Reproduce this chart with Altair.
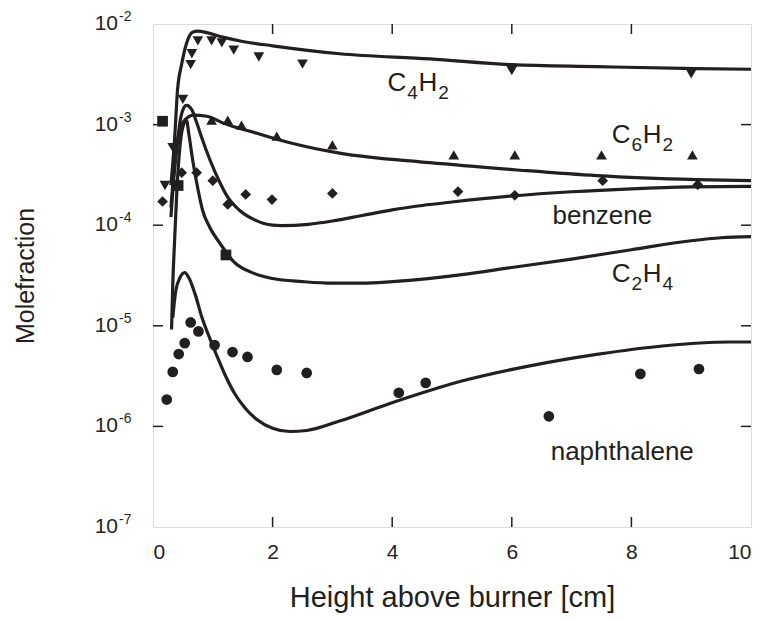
import altair as alt
import pandas as pd

# ---------------- model curves ----------------
c4h2_x = [0.30, 0.36, 0.41, 0.48, 0.56, 0.66, 0.75, 0.90, 1.17, 1.50, 2.00, 3.12, 4.63, 6.00, 7.42, 9.09, 10.0]
c4h2_y = [2.5e-4, 7.0e-4, 2.2e-3, 4.0e-3, 6.4e-3, 8.3e-3, 8.5e-3, 8.2e-3, 7.4e-3, 6.7e-3, 6.07e-3, 5.06e-3, 4.5e-3, 3.94e-3, 3.77e-3, 3.6e-3, 3.55e-3]

c6h2_x = [0.30, 0.36, 0.42, 0.50, 0.60, 0.67, 0.90, 1.17, 1.74, 2.29, 3.12, 4.63, 6.05, 7.42, 9.09, 10.0]
c6h2_y = [1.5e-4, 4.0e-4, 7.5e-4, 1.05e-3, 1.2e-3, 1.24e-3, 1.21e-3, 1.04e-3, 8.2e-4, 6.6e-4, 5.2e-4, 4.18e-4, 3.56e-4, 3.11e-4, 2.84e-4, 2.77e-4]

benz_x = [0.30, 0.36, 0.40, 0.45, 0.50, 0.56, 0.65, 0.73, 0.83, 0.95, 1.10, 1.25, 1.45, 1.70, 2.00, 2.15, 2.60, 3.00, 3.50, 4.00, 4.50, 5.00, 6.00, 7.00, 8.00, 9.00, 10.0]
benz_y = [1.2e-4, 3.5e-4, 6.0e-4, 1.05e-3, 1.4e-3, 1.55e-3, 1.4e-3, 1.05e-3, 7.0e-4, 4.5e-4, 2.8e-4, 1.9e-4, 1.4e-4, 1.13e-4, 1.0e-4, 9.9e-5, 1.02e-4, 1.1e-4, 1.25e-4, 1.42e-4, 1.57e-4, 1.7e-4, 1.95e-4, 2.15e-4, 2.3e-4, 2.4e-4, 2.43e-4]

c2h4_x = [0.31, 0.33, 0.36, 0.40, 0.45, 0.50, 0.56, 0.60, 0.67, 0.75, 0.83, 0.95, 1.12, 1.34, 1.70, 2.00, 2.50, 3.00, 3.50, 4.00, 4.60, 5.30, 6.00, 7.00, 8.00, 9.00, 9.50, 10.0]
c2h4_y = [9.2e-6, 2.5e-5, 6.8e-5, 2.26e-4, 6.0e-4, 9.5e-4, 1.1e-3, 8.0e-4, 4.2e-4, 2.3e-4, 1.4e-4, 9.5e-5, 6.6e-5, 4.4e-5, 3.3e-5, 2.95e-5, 2.75e-5, 2.65e-5, 2.65e-5, 2.75e-5, 2.95e-5, 3.3e-5, 3.8e-5, 4.6e-5, 5.7e-5, 7.0e-5, 7.5e-5, 7.7e-5]

naph_x = [0.33, 0.38, 0.45, 0.53, 0.60, 0.70, 0.82, 0.95, 1.07, 1.20, 1.37, 1.55, 1.73, 2.00, 2.29, 2.57, 3.12, 3.96, 5.18, 6.30, 7.42, 8.52, 9.64, 10.0]
naph_y = [1.2e-5, 2.2e-5, 3.0e-5, 3.37e-5, 3.0e-5, 2.1e-5, 1.2e-5, 7.5e-6, 5.0e-6, 3.3e-6, 2.1e-6, 1.5e-6, 1.18e-6, 9.6e-7, 8.9e-7, 9.1e-7, 1.13e-6, 1.69e-6, 2.84e-6, 4.0e-6, 5.2e-6, 6.3e-6, 6.9e-6, 6.9e-6]

# ---------------- measured points ----------------
m_c4h2_x = [0.20, 0.33, 0.50, 0.63, 0.65, 0.75, 0.98, 1.15, 1.35, 1.77, 2.50, 6.00, 9.00]
m_c4h2_y = [2.48e-4, 5.9e-4, 1.78e-3, 3.95e-3, 5.06e-3, 6.8e-3, 6.8e-3, 6.5e-3, 5.5e-3, 4.7e-3, 4.0e-3, 3.44e-3, 3.2e-3]

m_c6h2_x = [0.98, 1.25, 1.48, 2.07, 3.00, 5.03, 6.05, 7.50, 9.02]
m_c6h2_y = [1.11e-3, 1.11e-3, 9.9e-4, 7.7e-4, 6.3e-4, 5.0e-4, 5.0e-4, 5.0e-4, 5.0e-4]

m_benz_x = [0.16, 0.48, 0.73, 1.00, 1.25, 1.55, 1.99, 3.00, 5.10, 6.05, 7.52, 9.11]
m_benz_y = [1.72e-4, 3.33e-4, 3.33e-4, 2.77e-4, 1.61e-4, 2.02e-4, 1.80e-4, 2.07e-4, 2.16e-4, 1.98e-4, 2.77e-4, 2.53e-4]

m_c2h4_x = [0.16, 0.42, 1.22]
m_c2h4_y = [1.08e-3, 2.48e-4, 5.06e-5]

m_naph_x = [0.23, 0.33, 0.43, 0.53, 0.63, 0.76, 1.03, 1.33, 1.58, 2.07, 2.57, 4.11, 4.56, 6.62, 8.15, 9.13]
m_naph_y = [1.85e-6, 3.48e-6, 5.24e-6, 6.73e-6, 1.08e-5, 8.8e-6, 6.43e-6, 5.48e-6, 4.9e-6, 3.65e-6, 3.40e-6, 2.16e-6, 2.71e-6, 1.26e-6, 3.33e-6, 3.72e-6]

species = ["C4H2", "C6H2", "benzene", "C2H4", "naphthalene"]
shapes = ["triangle-down", "triangle-up", "diamond", "square", "circle"]
sizes = [115, 115, 85, 125, 180]

# ---------------- axis ticks / labels ----------------
x_ticks = [2, 4, 6, 8]
x_labels = [0, 2, 4, 6, 8, 10]
y_ticks = [1e-3, 1e-4, 1e-5, 1e-6]
y_label_vals = [1e-2, 1e-3, 1e-4, 1e-5, 1e-6, 1e-7]
y_label_exps = ["-2", "-3", "-4", "-5", "-6", "-7"]

# ---------------- species annotations (pieces for subscripts) ----------------
lab_big_text = ["C", "H", "C", "H", "C", "H", "benzene", "naphthalene"]
lab_big_x = [3.92, 4.44, 7.67, 8.19, 7.67, 8.19, 6.68, 6.65]
lab_big_y = [2.14e-3, 2.14e-3, 6.58e-4, 6.58e-4, 2.74e-5, 2.74e-5, 1.02e-4, 4.62e-7]
lab_sub_text = ["4", "2", "6", "2", "2", "4"]
lab_sub_x = [4.25, 4.77, 8.00, 8.52, 8.00, 8.52]
lab_sub_y = [2.14e-3, 2.14e-3, 6.58e-4, 6.58e-4, 2.74e-5, 2.74e-5]

FONT = "Liberation Sans"
INK = "#231f20"
W, H = 598, 503

xs = alt.Scale(domain=[0, 10], nice=False, zero=False)
ys = alt.Scale(type="log", domain=[1e-7, 1e-2], nice=False)

x_axis = alt.Axis(values=x_labels, format="d", labelFontSize=21, labelFont=FONT, labelColor=INK,
                  ticks=False, domain=False, grid=False, labelPadding=14,
                  title="Height above burner [cm]", titleFontSize=29, titleFont=FONT,
                  titleFontWeight="normal", titleColor=INK, titlePadding=21)
y_axis = alt.Axis(labels=False, ticks=False, domain=False, grid=False,
                  title="Molefraction", titleFontSize=25, titleFont=FONT,
                  titleFontWeight="normal", titleColor=INK, titlePadding=115)


def X(field):
    return alt.X(field, type="quantitative", scale=xs, axis=x_axis)


def Y(field):
    return alt.Y(field, type="quantitative", scale=ys, axis=y_axis)


rows = []
for sp, xx, yy in zip(species, [c4h2_x, c6h2_x, benz_x, c2h4_x, naph_x], [c4h2_y, c6h2_y, benz_y, c2h4_y, naph_y]):
    for a, b in zip(xx, yy):
        rows.append({"species": sp, "x": a, "y": b})
model = pd.DataFrame(rows)

rows = []
for sp, xx, yy in zip(species, [m_c4h2_x, m_c6h2_x, m_benz_x, m_c2h4_x, m_naph_x],
                      [m_c4h2_y, m_c6h2_y, m_benz_y, m_c2h4_y, m_naph_y]):
    for a, b in zip(xx, yy):
        rows.append({"species": sp, "x": a, "y": b})
meas = pd.DataFrame(rows)

lines = alt.Chart(model).mark_line(color=INK, strokeWidth=3.2, interpolate="monotone", clip=True).encode(
    x=X("x"), y=Y("y"), detail="species:N", order="x:Q")

points = alt.Chart(meas).mark_point(filled=True, color=INK, opacity=1, strokeWidth=0).encode(
    x=X("x"), y=Y("y"),
    shape=alt.Shape("species:N", scale=alt.Scale(domain=species, range=shapes), legend=None),
    size=alt.Size("species:N", scale=alt.Scale(domain=species, range=sizes), legend=None))

xt = pd.DataFrame({"x": x_ticks})
yt = pd.DataFrame({"y": y_ticks})
tick_style = dict(color=INK, strokeWidth=1.5)
xt_bottom = alt.Chart(xt).mark_rule(**tick_style).encode(x=X("x"), y=alt.value(H), y2=alt.value(H - 10))
xt_top = alt.Chart(xt).mark_rule(**tick_style).encode(x=X("x"), y=alt.value(0), y2=alt.value(10))
yt_left = alt.Chart(yt).mark_rule(**tick_style).encode(y=Y("y"), x=alt.value(0), x2=alt.value(10))
yt_right = alt.Chart(yt).mark_rule(**tick_style).encode(y=Y("y"), x=alt.value(W), x2=alt.value(W - 10))

yl = pd.DataFrame({"y": y_label_vals, "exp": y_label_exps, "base": ["10"] * len(y_label_vals)})
ylab_base = alt.Chart(yl).mark_text(font=FONT, fontSize=21, align="right", baseline="middle",
                                    color=INK).encode(y=Y("y"), x=alt.value(-35), text="base:N")
ylab_exp = alt.Chart(yl).mark_text(font=FONT, fontSize=14, align="left", baseline="middle", dy=-7,
                                   color=INK).encode(y=Y("y"), x=alt.value(-34), text="exp:N")

big = pd.DataFrame({"t": lab_big_text, "x": lab_big_x, "y": lab_big_y})
sub = pd.DataFrame({"t": lab_sub_text, "x": lab_sub_x, "y": lab_sub_y})
lab_big = alt.Chart(big).mark_text(font=FONT, fontSize=26, align="left", baseline="alphabetic",
                                   color=INK).encode(x=X("x"), y=Y("y"), text="t:N")
lab_sub = alt.Chart(sub).mark_text(font=FONT, fontSize=19, align="left", baseline="alphabetic", dy=8,
                                   color=INK).encode(x=X("x"), y=Y("y"), text="t:N")

chart = alt.layer(lines, points, xt_bottom, xt_top, yt_left, yt_right, ylab_base, ylab_exp, lab_big, lab_sub).properties(
    width=W, height=H,
    autosize=alt.AutoSizeParams(type="none"),
    padding={"left": 145, "top": 16, "right": 9, "bottom": 86},
).configure_view(stroke=INK, strokeWidth=1.5).configure(background="white")

chart.save("out.html", embed_options={"renderer": "svg", "actions": False})
